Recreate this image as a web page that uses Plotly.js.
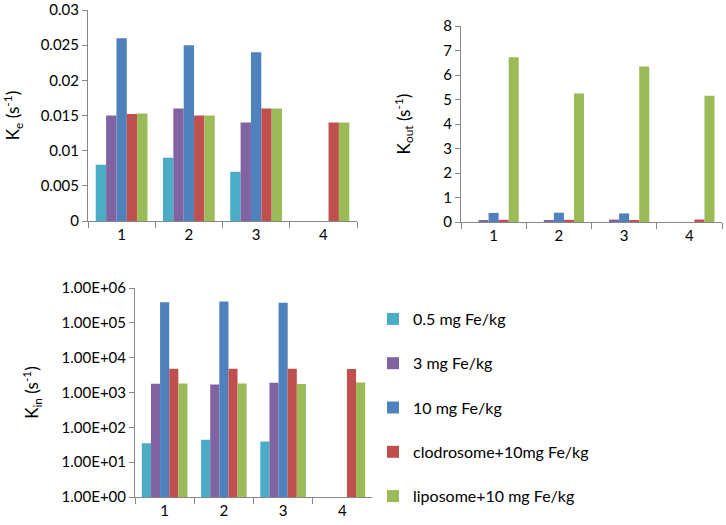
<!DOCTYPE html>
<html><head><meta charset="utf-8">
<script src="https://cdn.plot.ly/plotly-3.0.1.min.js"></script>
<style>html,body{margin:0;padding:0;background:#fff}</style>
</head><body><div id="chart" style="width:726px;height:525px"></div>
<script>
const categories = ['1', '2', '3', '4'];
const seriesNames = ['0.5 mg Fe/kg', '3 mg Fe/kg', '10 mg Fe/kg', 'clodrosome+10mg Fe/kg', 'liposome+10 mg Fe/kg'];
const colors = ['#4BACC6', '#8064A2', '#4F81BD', '#C0504D', '#9BBB59'];

// Ke (s^-1)
const keCyan   = [0.008, 0.009, 0.007, null];
const kePurple = [0.015, 0.016, 0.014, null];
const keBlue   = [0.026, 0.025, 0.024, null];
const keRed    = [0.0152, 0.015, 0.016, 0.014];
const keGreen  = [0.0153, 0.015, 0.016, 0.014];

// Kout (s^-1)
const koutCyan   = [0, 0, 0, null];
const koutPurple = [0.08, 0.08, 0.1, null];
const koutBlue   = [0.37, 0.38, 0.35, null];
const koutRed    = [0.09, 0.09, 0.08, 0.1];
const koutGreen  = [6.72, 5.25, 6.35, 5.15];

// Kin (s^-1)
const kinCyan   = [35, 44, 39, null];
const kinPurple = [1770, 1700, 1920, null];
const kinBlue   = [390000, 410000, 380000, null];
const kinRed    = [4800, 4800, 4800, 4700];
const kinGreen  = [1800, 1800, 1750, 1950];

const keTickVals = [0, 0.005, 0.01, 0.015, 0.02, 0.025, 0.03];
const keTickText = ['0', '0.005', '0.01', '0.015', '0.02', '0.025', '0.03'];
const kinTickVals = [1, 10, 100, 1000, 10000, 100000, 1000000];
const kinTickText = ['1.00E+00', '1.00E+01', '1.00E+02', '1.00E+03', '1.00E+04', '1.00E+05', '1.00E+06'];

const keSeries = [keCyan, kePurple, keBlue, keRed, keGreen];
const koutSeries = [koutCyan, koutPurple, koutBlue, koutRed, koutGreen];
const kinSeries = [kinCyan, kinPurple, kinBlue, kinRed, kinGreen];

const traces = [];
function addSet(series, xa, ya, showLegend) {
  series.forEach((vals, i) => {
    traces.push({
      type: 'bar', x: categories, y: vals, name: seriesNames[i],
      xaxis: xa, yaxis: ya, marker: {color: colors[i]},
      legendgroup: 'g' + i, showlegend: showLegend, hoverinfo: 'y'
    });
  });
}
addSet(keSeries, 'x', 'y', false);
addSet(koutSeries, 'x2', 'y2', false);
addSet(kinSeries, 'x3', 'y3', true);

const fam = 'Lato, "Open Sans", sans-serif';
const font = {family: fam, size: 15, color: '#000'};
const titleFont = {family: fam, size: 17, color: '#000'};
const axisBase = {
  showline: true, linecolor: '#868686', linewidth: 1,
  ticks: 'outside', ticklen: 5, tickcolor: '#868686',
  showgrid: false, zeroline: false, tickfont: font, fixedrange: true,
  ticklabeloverflow: 'allow'
};
const xBase = Object.assign({}, axisBase, {type: 'category', tickson: 'boundaries', ticklen: 6});

const W = 726, H = 525;
const px = (a, b) => [a / W, b / W];
const py = (top, bottom) => [(H - bottom) / H, (H - top) / H];

const layout = {
  width: W, height: H, margin: {l: 0, r: 0, t: 0, b: 0},
  paper_bgcolor: '#fff', plot_bgcolor: '#fff',
  barmode: 'group', bargap: 0.23, bargroupgap: 0,
  font: font,
  xaxis: Object.assign({}, xBase, {domain: px(88, 357), anchor: 'y'}),
  yaxis: Object.assign({}, axisBase, {domain: py(10, 221), anchor: 'x', range: [0, 0.03],
    tickvals: keTickVals, ticktext: keTickText,
    title: {text: 'K<sub>e</sub> (s<sup>-1</sup>)', font: titleFont, standoff: 18}}),
  xaxis2: Object.assign({}, xBase, {domain: px(461, 722), anchor: 'y2'}),
  yaxis2: Object.assign({}, axisBase, {domain: py(26, 222), anchor: 'x2', range: [0, 8], dtick: 1,
    title: {text: 'K<sub>out</sub> (s<sup>-1</sup>)', font: titleFont, standoff: 28}}),
  xaxis3: Object.assign({}, xBase, {domain: px(135, 372), anchor: 'y3'}),
  yaxis3: Object.assign({}, axisBase, {domain: py(288, 497), anchor: 'x3', type: 'log', range: [0, 6],
    tickvals: kinTickVals, ticktext: kinTickText,
    title: {text: 'K<sub>in</sub> (s<sup>-1</sup>)', font: titleFont, standoff: 18}}),
  showlegend: true,
  legend: {x: 373 / W, y: (H - 302) / H, xanchor: 'left', yanchor: 'top',
    font: {family: fam, size: 16, color: '#000'}, tracegroupgap: 20.5,
    traceorder: 'grouped', itemwidth: 30, bgcolor: 'rgba(0,0,0,0)'}
};

Plotly.newPlot('chart', traces, layout, {staticPlot: true, displayModeBar: false});
</script></body></html>
